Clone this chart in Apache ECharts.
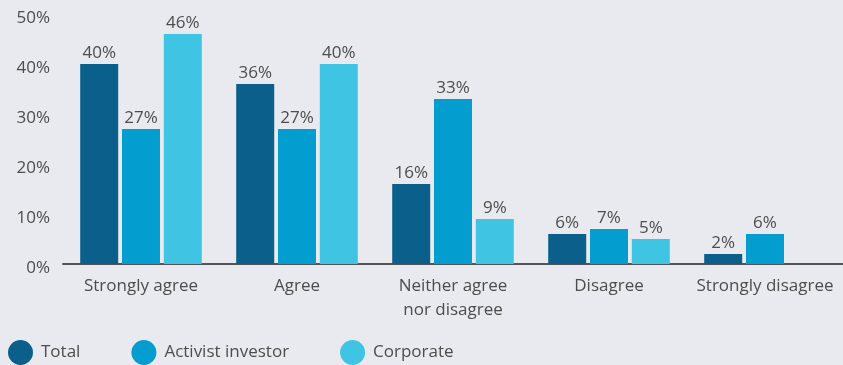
<!DOCTYPE html>
<html>
<head>
<meta charset="utf-8">
<style>
  html, body { margin: 0; padding: 0; background: #e8eaef; }
  #chart { width: 843px; height: 365px; }
</style>
<script src="https://cdn.jsdelivr.net/npm/echarts@6/dist/echarts.min.js"></script>
</head>
<body>
<div id="chart"></div>
<script>
// Survey responses by group (percent)
const categories = ['Strongly agree', 'Agree', 'Neither agree\nnor disagree', 'Disagree', 'Strongly disagree'];
const totalValues = [40, 36, 16, 6, 2];
const activistValues = [27, 27, 33, 7, 6];
const corporateValues = [46, 40, 9, 5, null];
const yTicks = [0, 10, 20, 30, 40, 50];

const textColor = '#4d4d4d';
const fontFamily = '"Open Sans", sans-serif';

function barSeries(name, data, color) {
  return {
    name: name,
    type: 'bar',
    data: data,
    barWidth: 38,
    barGap: '10%',
    itemStyle: { color: color },
    label: {
      show: true,
      position: 'top',
      distance: 2,
      formatter: p => p.value + '%',
      color: textColor,
      fontSize: 17,
      fontFamily: fontFamily
    }
  };
}

const chart = echarts.init(document.getElementById('chart'));
chart.setOption({
  backgroundColor: '#e8eaef',
  animation: false,
  textStyle: { fontFamily: fontFamily },
  grid: { left: 63, right: 0, top: 14, bottom: 101 },
  legend: {
    left: 3,
    top: 335,
    icon: 'circle',
    itemWidth: 25,
    itemHeight: 25,
    itemGap: 51,
    textStyle: { color: textColor, fontSize: 17, fontFamily: fontFamily, padding: [0, 0, 0, 3] }
  },
  xAxis: {
    type: 'category',
    data: categories,
    axisLine: { lineStyle: { color: '#555', width: 2 } },
    axisTick: { show: false },
    axisLabel: {
      interval: 0,
      color: textColor,
      fontSize: 17,
      fontFamily: fontFamily,
      margin: 10,
      lineHeight: 24
    }
  },
  yAxis: {
    type: 'value',
    min: yTicks[0],
    max: yTicks[yTicks.length - 1],
    interval: 10,
    splitLine: { show: false },
    axisLine: { show: false },
    axisTick: { show: false },
    axisLabel: {
      formatter: v => v + '%',
      color: textColor,
      fontSize: 17,
      fontFamily: fontFamily,
      margin: 13,
      verticalAlign: 'top',
      lineHeight: 8
    }
  },
  series: [
    barSeries('Total', totalValues, '#0b5f8b'),
    barSeries('Activist investor', activistValues, '#049dd0'),
    barSeries('Corporate', corporateValues, '#40c4e4')
  ]
});
</script>
</body>
</html>
